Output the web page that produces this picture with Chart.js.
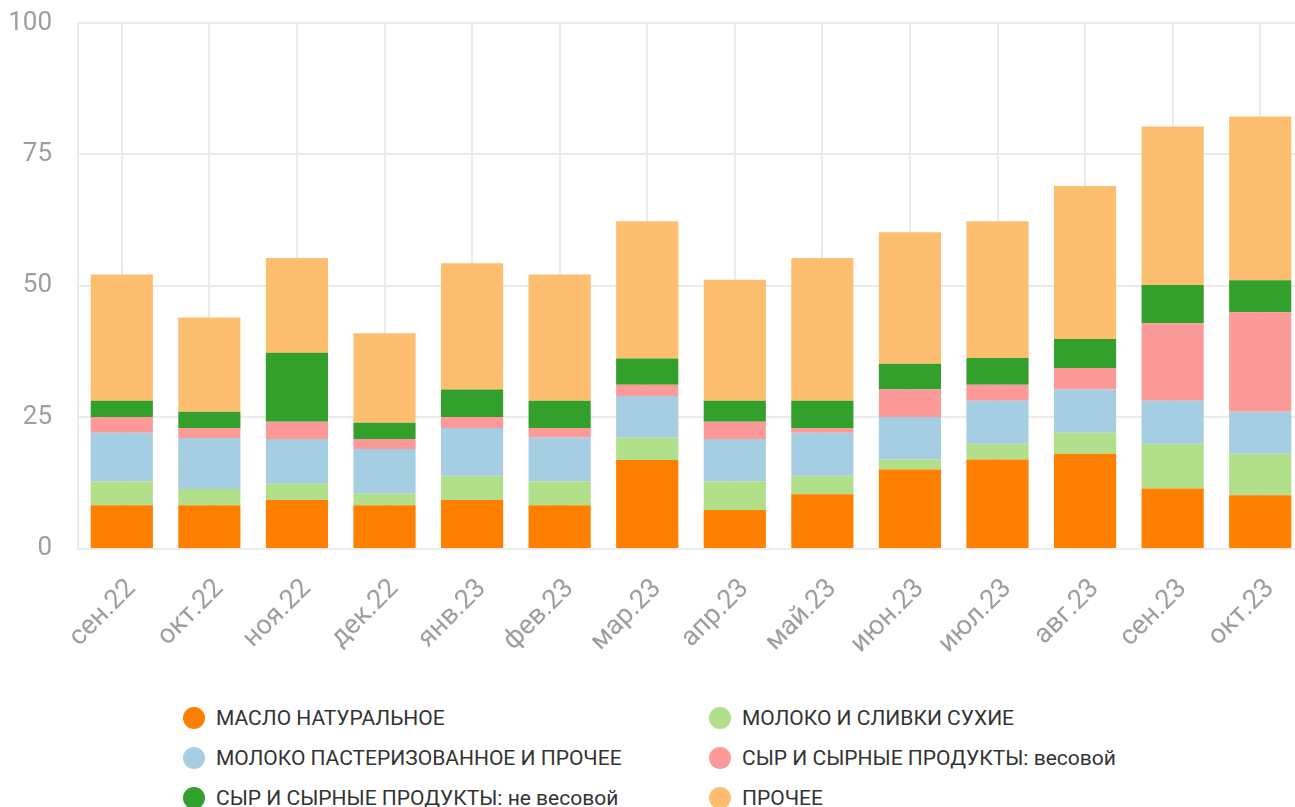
<!DOCTYPE html>
<html lang="ru">
<head>
<meta charset="utf-8">
<script src="https://cdn.jsdelivr.net/npm/chart.js@4/dist/chart.umd.min.js"></script>
<style>
  html, body { margin: 0; padding: 0; background: #fff; overflow: hidden; }
  body { width: 1295px; height: 807px; position: relative; font-family: Roboto, sans-serif; }
  #wrap { position: absolute; left: 0; top: 0; width: 1304px; height: 684px; }
  #legend { position: absolute; left: 0; top: 698px; width: 1295px; }
  .item { position: absolute; height: 40px; line-height: 40px; font-size: 21px; color: #333; white-space: nowrap; }
  .dot { position: absolute; left: 0; top: 9px; width: 22px; height: 22px; border-radius: 50%; }
  .item span { position: absolute; left: 33px; top: 0; }
</style>
</head>
<body>
<div id="wrap"><canvas id="barChart" width="1304" height="684"></canvas></div>
<div id="legend"></div>
<script>
// ===================
// Data
// ===================
const months = ['сен.22', 'окт.22', 'ноя.22', 'дек.22', 'янв.23', 'фев.23', 'мар.23',
                'апр.23', 'май.23', 'июн.23', 'июл.23', 'авг.23', 'сен.23', 'окт.23'];

const butter       = [8.3, 8.3, 9.3, 8.3, 9.3, 8.3, 16.9, 7.4, 10.4, 15.1, 17.0, 18.1, 11.5, 10.2];
const dryMilk      = [4.6, 3.1, 3.1, 2.2, 4.6, 4.6, 4.3, 5.5, 3.5, 1.9, 3.0, 4.0, 8.5, 7.9];
const pasteurized  = [9.2, 9.7, 8.5, 8.5, 9.1, 8.3, 7.9, 8.0, 8.2, 8.1, 8.2, 8.2, 8.2, 8.0];
const cheeseWeight = [3.0, 1.9, 3.3, 1.9, 2.1, 1.8, 2.1, 3.3, 0.9, 5.2, 3.0, 4.1, 14.7, 18.9];
const cheesePacked = [3.1, 3.1, 13.1, 3.1, 5.2, 5.2, 5.0, 4.0, 5.2, 4.9, 5.1, 5.5, 7.3, 6.1];
const other        = [24.0, 17.9, 18.0, 17.0, 24.0, 24.0, 26.1, 23.0, 27.1, 25.0, 26.0, 29.1, 30.1, 31.1];

const yTicks = [0, 25, 50, 75, 100];

const seriesNames = ['МАСЛО НАТУРАЛЬНОЕ', 'МОЛОКО И СЛИВКИ СУХИЕ', 'МОЛОКО ПАСТЕРИЗОВАННОЕ И ПРОЧЕЕ',
                     'СЫР И СЫРНЫЕ ПРОДУКТЫ: весовой', 'СЫР И СЫРНЫЕ ПРОДУКТЫ: не весовой', 'ПРОЧЕЕ'];
const seriesData = [butter, dryMilk, pasteurized, cheeseWeight, cheesePacked, other];
const seriesColors = ['#ff7f00', '#b2df8a', '#a6cee3', '#fb9a99', '#33a02c', '#fdbf6f'];

// ===================
// Chart.js Code
// ===================
const gridColor = '#ebebeb';
const tickColor = '#9e9e9e';

const ctx = document.getElementById('barChart').getContext('2d');

new Chart(ctx, {
  type: 'bar',
  data: {
    labels: months,
    datasets: seriesNames.map((name, i) => ({
      label: name,
      data: seriesData[i],
      backgroundColor: seriesColors[i],
      borderWidth: 0,
      barPercentage: 0.71,
      categoryPercentage: 1
    }))
  },
  options: {
    responsive: false,
    animation: false,
    layout: { padding: { left: 0, top: 23, right: 0, bottom: 0 } },
    plugins: {
      legend: { display: false },
      tooltip: { enabled: false }
    },
    scales: {
      x: {
        stacked: true,
        grid: { color: gridColor, lineWidth: 2, drawTicks: false, offset: false },
        border: { color: gridColor, width: 2 },
        ticks: {
          color: tickColor,
          font: { family: 'Roboto', size: 27 },
          maxRotation: 45,
          minRotation: 45,
          autoSkip: false,
          padding: 24,
          labelOffset: 10
        },
        // keep the rotated labels from pushing the plot area
        afterFit: axis => { axis.paddingLeft = 0; axis.paddingRight = 0; }
      },
      y: {
        stacked: true,
        min: 0,
        max: 100,
        afterBuildTicks: axis => { axis.ticks = yTicks.map(v => ({ value: v })); },
        afterFit: axis => { axis.width = 78; axis.paddingTop = 0; axis.paddingBottom = 0; },
        grid: { color: gridColor, lineWidth: 2, drawTicks: false },
        border: { color: gridColor, width: 2 },
        ticks: {
          color: tickColor,
          font: { family: 'Roboto', size: 26 },
          padding: 26
        }
      }
    }
  }
});

// ===================
// Legend (two columns)
// ===================
const legend = document.getElementById('legend');
seriesNames.forEach((name, i) => {
  const item = document.createElement('div');
  item.className = 'item';
  item.style.left = (i % 2 === 0 ? 183 : 709) + 'px';
  item.style.top = (Math.floor(i / 2) * 40) + 'px';
  item.innerHTML = '<div class="dot" style="background:' + seriesColors[i] + '"></div><span></span>';
  item.querySelector('span').textContent = name;
  legend.appendChild(item);
});
</script>
</body>
</html>
